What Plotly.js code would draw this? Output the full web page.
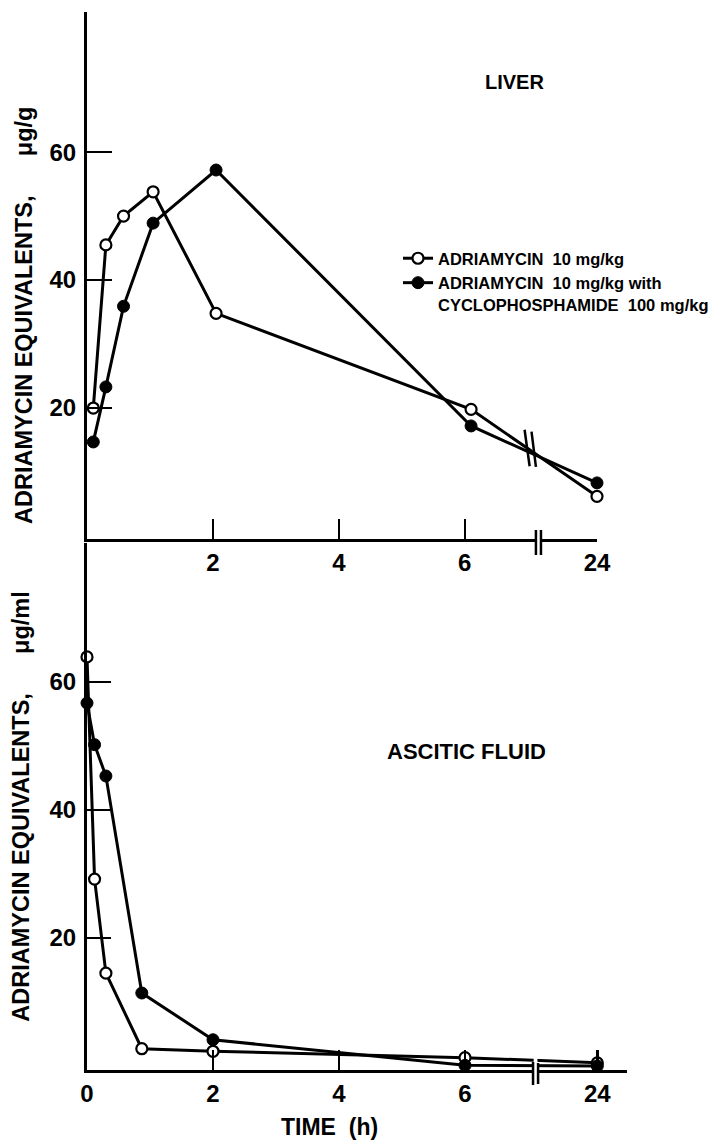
<!DOCTYPE html>
<html>
<head>
<meta charset="utf-8">
<script src="https://cdn.plot.ly/plotly-3.0.1.min.js"></script>
<style>html,body{margin:0;padding:0;background:#fff;}#chart{width:719px;height:1142px;}</style>
</head>
<body>
<div id="chart"></div>
<script>
// ---- data ----
const seriesNames = ["ADRIAMYCIN\u00a0\u00a010 mg/kg",
                     "ADRIAMYCIN\u00a0\u00a010 mg/kg with<br>CYCLOPHOSPHAMIDE\u00a0\u00a0100 mg/kg"];
const liverTime      = [0.1, 0.3, 0.58, 1.05, 2.05, 6.1, 24];      // h
const liverAdria     = [20, 45.5, 50, 53.8, 34.8, 19.8, 6.2];      // µg/g
const liverCombo     = [14.7, 23.3, 35.9, 48.9, 57.2, 17.2, 8.3];  // µg/g
const asciticTime    = [0, 0.12, 0.3, 0.87, 2, 6, 24];             // h
const asciticAdria   = [63.9, 29.2, 14.5, 2.7, 2.3, 1.3, 0.5];     // µg/ml
const asciticCombo   = [56.7, 50.2, 45.3, 11.4, 4.1, 0.1, 0];      // µg/ml
const tickHours      = [0, 2, 4, 6, 24];
const tickText       = ["0", "2", "4", "6", "24"];
const panelLabels    = ["LIVER", "ASCITIC FLUID"];
const yTitles        = ["ADRIAMYCIN EQUIVALENTS,", "\u03bcg/g", "\u03bcg/ml"];
const xTitle         = "TIME\u00a0\u00a0(h)";

// ---- broken time axis: hours up to 6 are linear, 24 h placed after the break ----
const BREAK_POS = 8.1;
function tpos(t) { return t < 12 ? t : BREAK_POS; }

const W = 719, H = 1142;
const FONT = "Liberation Sans, Arial, Helvetica, sans-serif";
const px = v => v / W;
const py = v => 1 - v / H;
const NB = "\u00a0";

const lineStyle = {color: "#000", width: 3};
const openMarker = {symbol: "circle", size: 11, color: "#fff", line: {color: "#000", width: 2.2}};
const fillMarker = {symbol: "circle", size: 12, color: "#000", line: {color: "#000", width: 1}};

const traces = [
  {x: liverTime.map(tpos), y: liverAdria, xaxis: "x", yaxis: "y", mode: "lines+markers",
   name: seriesNames[0], legendgroup: "a", line: lineStyle, marker: openMarker, cliponaxis: false},
  {x: liverTime.map(tpos), y: liverCombo, xaxis: "x", yaxis: "y", mode: "lines+markers",
   name: seriesNames[1], legendgroup: "b", line: lineStyle, marker: fillMarker, cliponaxis: false},
  {x: asciticTime.map(tpos), y: asciticAdria, xaxis: "x2", yaxis: "y2", mode: "lines+markers",
   name: seriesNames[0], legendgroup: "a", showlegend: false, line: lineStyle, marker: openMarker, cliponaxis: false},
  {x: asciticTime.map(tpos), y: asciticCombo, xaxis: "x2", yaxis: "y2", mode: "lines+markers",
   name: seriesNames[1], legendgroup: "b", showlegend: false, line: lineStyle, marker: fillMarker, cliponaxis: false}
];

const tickFont = {family: FONT, size: 24, color: "#000", weight: "bold"};
const titleFont = {family: FONT, size: 23.5, color: "#000", weight: "bold"};
const axisCommon = {showgrid: false, zeroline: false, showline: true, linecolor: "#000", linewidth: 3,
                    ticks: "inside", tickcolor: "#000", tickwidth: 2.5, tickfont: tickFont, fixedrange: true};

const layout = {
  width: W, height: H,
  margin: {l: 0, r: 0, t: 0, b: 0, pad: 0},
  paper_bgcolor: "#fff", plot_bgcolor: "rgba(0,0,0,0)",
  font: {family: FONT, color: "#000"},
  showlegend: true,
  legend: {x: px(398), xanchor: "left", y: py(241), yanchor: "top", bgcolor: "rgba(0,0,0,0)",
           font: {family: FONT, size: 16.5, color: "#000", weight: "bold"}, valign: "top",
           tracegroupgap: 0, itemclick: false, itemdoubleclick: false},
  xaxis: Object.assign({}, axisCommon, {domain: [px(87), px(597)], range: [0, BREAK_POS], anchor: "y",
           tickmode: "array", tickvals: tickHours.slice(1).map(tpos), ticktext: tickText.slice(1), ticklen: 20,
           ticklabelstandoff: 0}),
  yaxis: Object.assign({}, axisCommon, {domain: [py(539), py(12)], range: [-0.47, 81.9], anchor: "x",
           tickmode: "array", tickvals: [20, 40, 60], ticklen: 25, ticklabelstandoff: 3}),
  xaxis2: Object.assign({}, axisCommon, {domain: [px(87), px(627)], range: [0, (627 - 87) / 63], anchor: "y2",
           tickmode: "array", tickvals: tickHours.map(tpos), ticktext: tickText, ticklen: 20,
           ticklabelstandoff: 0}),
  yaxis2: Object.assign({}, axisCommon, {domain: [py(1070), py(543)], range: [-0.625, 81.7], anchor: "x2",
           tickmode: "array", tickvals: [20, 40, 60], ticklen: 24, ticklabelstandoff: 3,
           title: {text: yTitles[0] + NB.repeat(6) + yTitles[2], font: titleFont, standoff: 14}}),
  annotations: [
    {text: yTitles[0] + NB.repeat(6) + yTitles[1], xref: "paper", yref: "paper", x: px(24), y: py(316),
     xanchor: "center", yanchor: "middle", textangle: -90, showarrow: false, font: titleFont},
    {text: xTitle, xref: "paper", yref: "paper", x: px(329), y: py(1127), xanchor: "center", yanchor: "middle",
     showarrow: false, font: {family: FONT, size: 23, color: "#000", weight: "bold"}},
    {text: panelLabels[0], xref: "paper", yref: "paper", x: px(514), y: py(82), xanchor: "center", yanchor: "middle",
     showarrow: false, font: {family: FONT, size: 20, color: "#000", weight: "bold"}},
    {text: panelLabels[1], xref: "paper", yref: "paper", x: px(466), y: py(752), xanchor: "center", yanchor: "middle",
     showarrow: false, font: {family: FONT, size: 22, color: "#000", weight: "bold"}}
  ],
  shapes: [
    // break marks across the liver curves
    {type: "line", xref: "x", yref: "y", x0: 6.95, y0: 16.6, x1: 7.03, y1: 10.9, line: {color: "#000", width: 2.5}, layer: "above"},
    {type: "line", xref: "x", yref: "y", x0: 7.06, y0: 16.3, x1: 7.13, y1: 10.8, line: {color: "#000", width: 2.5}, layer: "above"},
    // break on the liver time axis
    {type: "rect", xref: "x", yref: "paper", x0: 7.14, x1: 7.20, y0: py(544), y1: py(534), fillcolor: "#fff", line: {width: 0}, layer: "above"},
    {type: "line", xref: "x", yref: "paper", x0: 7.13, x1: 7.13, y0: py(555), y1: py(530), line: {color: "#000", width: 2.5}, layer: "above"},
    {type: "line", xref: "x", yref: "paper", x0: 7.21, x1: 7.21, y0: py(555), y1: py(530), line: {color: "#000", width: 2.5}, layer: "above"},
    // break on the ascitic time axis (curves interrupted too)
    {type: "rect", xref: "x2", yref: "paper", x0: 7.09, x1: 7.15, y0: py(1074), y1: py(1048), fillcolor: "#fff", line: {width: 0}, layer: "above"},
    {type: "line", xref: "x2", yref: "paper", x0: 7.08, x1: 7.08, y0: py(1085), y1: py(1062), line: {color: "#000", width: 2.5}, layer: "above"},
    {type: "line", xref: "x2", yref: "paper", x0: 7.16, x1: 7.16, y0: py(1084), y1: py(1063), line: {color: "#000", width: 2.5}, layer: "above"}
  ]
};

Plotly.newPlot("chart", traces, layout, {staticPlot: true, displayModeBar: false});
</script>
</body>
</html>
